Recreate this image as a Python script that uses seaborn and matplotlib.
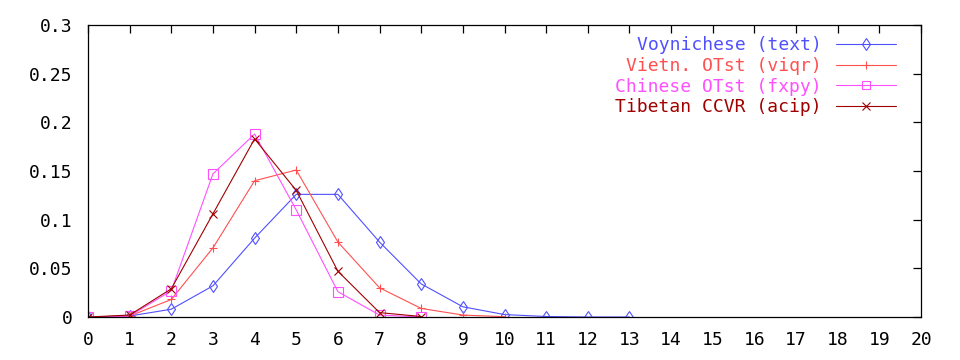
import matplotlib
matplotlib.use("Agg")
import matplotlib.pyplot as plt
import seaborn as sns
import pandas as pd

sns.set_style("white")
plt.rcParams['font.family'] = ['DejaVu Sans Mono', 'DejaVu Sans']

x_voy = [0, 1, 2, 3, 4, 5, 6, 7, 8, 9, 10, 11, 12, 13]
y_voy = [0.0, 0.001, 0.008, 0.032, 0.081, 0.126, 0.126, 0.077, 0.034, 0.0105, 0.0025, 0.0005, 0.0, 0.0]
x_vie = [0, 1, 2, 3, 4, 5, 6, 7, 8, 9, 10]
y_vie = [0.0, 0.001, 0.018, 0.071, 0.140, 0.151, 0.077, 0.030, 0.0088, 0.002, 0.0003]
x_chi = [0, 1, 2, 3, 4, 5, 6, 7, 8]
y_chi = [0.0, 0.001, 0.027, 0.147, 0.188, 0.110, 0.026, 0.002, 0.0]
x_tib = [0, 1, 2, 3, 4, 5, 6, 7, 8]
y_tib = [0.0, 0.002, 0.029, 0.106, 0.183, 0.130, 0.047, 0.0045, 0.0005]

labels = ["Voynichese (text)", "Vietn. OTst (viqr)", "Chinese OTst (fxpy)", "Tibetan CCVR (acip)"]
colors = ["#5050ff", "#ff5050", "#ff50ff", "#a00000"]
markers = ["d", "+", "s", "x"]

fig = plt.figure(figsize=(9.6, 3.6), dpi=100)
ax = fig.add_axes([88/960, 1-317/360, (921-88)/960, (317-25)/360])

series = [(x_voy, y_voy), (x_vie, y_vie), (x_chi, y_chi), (x_tib, y_tib)]
for (xs, ys), lab, c, m in zip(series, labels, colors, markers):
    df = pd.DataFrame({"x": xs, "y": ys})
    filled = m in ("+", "x")
    sns.lineplot(data=df, x="x", y="y", ax=ax, color=c, label=lab, marker=m,
                 markersize=6 if m != "s" else 6.5, linewidth=0.8,
                 markerfacecolor=(c if filled else "none"), markeredgecolor=c,
                 markeredgewidth=0.8)

ax.set_xlim(0, 20)
ax.set_ylim(0, 0.3)
ax.set_xticks(range(0, 21))
ax.set_yticks([0, 0.05, 0.1, 0.15, 0.2, 0.25, 0.3])
ax.set_yticklabels(["0", "0.05", "0.1", "0.15", "0.2", "0.25", "0.3"])
ax.set_xlabel("")
ax.set_ylabel("")
for s in ax.spines.values():
    s.set_visible(True)
    s.set_color("black")
    s.set_linewidth(0.9)
ax.tick_params(direction="in", length=6, width=0.9, top=True, right=True,
               labelsize=13, colors="black")
ax.tick_params(axis="x", pad=10)
ax.tick_params(axis="y", pad=11)

leg = ax.legend(loc="upper right", frameon=False, markerfirst=False,
                fontsize=13, handlelength=3.3, handletextpad=0.8,
                labelspacing=0.15, borderaxespad=0.3,
                bbox_to_anchor=(0.985, 1.005))
for t, c in zip(leg.get_texts(), colors):
    t.set_color(c)
    t.set_ha("right")
for h in leg.legend_handles:
    h.set_markersize(6)

fig.savefig("out.png", dpi=100)
